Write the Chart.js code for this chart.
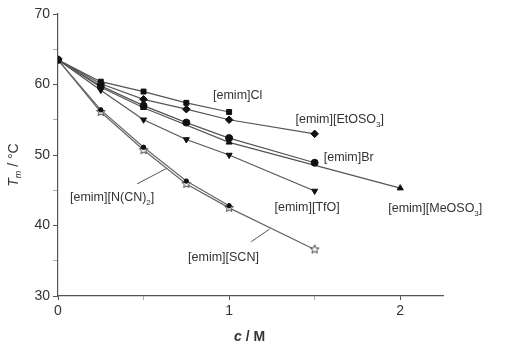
<!DOCTYPE html>
<html lang="en">
<head>
<meta charset="UTF-8">
<script src="https://cdn.jsdelivr.net/npm/chart.js"></script>
<style>
  body { margin: 0; background: #fff; }
</style>
<title>Tm vs c</title>
</head>
<body>
<canvas id="tmChart" width="510" height="348"></canvas>
<script>
// concentration c / M (shared x values, null = no point for that salt)
const conc = [0, 0.25, 0.5, 0.75, 1, 1.5, 2];

// melting temperature Tm / °C
const tCl     = [63.5, 60.4, 59.0, 57.4, 56.1, null, null];
const tEtOSO3 = [63.5, 60.1, 57.9, 56.5, 55.0, 53.0, null];
const tBr     = [63.5, 59.8, 57.0, 54.6, 52.4, 48.9, null];
const tMeOSO3 = [63.5, 59.6, 56.7, null, 51.8, null, 45.3];
const tTfO    = [63.5, 59.2, 55.0, 52.2, 50.0, 44.9, null];
const tNCN2   = [63.5, 56.4, 51.1, 46.3, 42.8, null, null];
const tSCN    = [63.5, 56.1, 50.7, 45.9, 42.5, 36.6, null];

const yTicks = [30, 40, 50, 60, 70];
const xTicks = [0, 1, 2];

Chart.defaults.font.family = '"Liberation Sans", Arial, sans-serif';

function pts(t) {
  return conc.map((c, i) => ({ x: c, y: t[i] })).filter(p => p.y !== null);
}

// open five point star marker
function openStar(r) {
  const cv = document.createElement('canvas');
  const s = Math.ceil(r * 2 + 3);
  cv.width = s; cv.height = s;
  const g = cv.getContext('2d');
  g.beginPath();
  for (let i = 0; i < 10; i++) {
    const a = -Math.PI / 2 + i * Math.PI / 5;
    const rr = i % 2 ? r * 0.45 : r;
    g.lineTo(s / 2 + rr * Math.cos(a), s / 2 + rr * Math.sin(a));
  }
  g.closePath();
  g.fillStyle = '#fff';
  g.fill();
  g.strokeStyle = '#444';
  g.lineWidth = 1;
  g.stroke();
  return cv;
}

function series(label, t, style, extra) {
  return Object.assign({
    label: label,
    data: pts(t),
    borderColor: '#555',
    borderWidth: 1.2,
    pointStyle: style,
    pointRadius: 3.5,
    pointBackgroundColor: '#111',
    pointBorderColor: '#111',
    pointBorderWidth: 1,
    tension: 0,
    fill: false
  }, extra || {});
}

// text labels next to the curves (data coords of left edge / middle)
const notes = [
  { parts: [['[emim]Cl']], c: 0.906, t: 58.5 },
  { parts: [['[emim][EtOSO'], ['3', 1], [']']], c: 1.388, t: 55.0 },
  { parts: [['[emim]Br']], c: 1.553, t: 49.6 },
  { parts: [['[emim][TfO]']], c: 1.265, t: 42.5 },
  { parts: [['[emim][MeOSO'], ['3', 1], [']']], c: 1.93, t: 42.4 },
  { parts: [['[emim][N(CN)'], ['2', 1], [']']], c: 0.07, t: 43.9 },
  { parts: [['[emim][SCN]']], c: 0.76, t: 35.5 }
];
const leaders = [
  [0.462, 45.9, 0.635, 48.1],
  [1.129, 37.7, 1.237, 39.5]
];

const notesPlugin = {
  id: 'notes',
  afterDatasetsDraw(chart) {
    const g = chart.ctx, xs = chart.scales.x, ys = chart.scales.y;
    g.save();
    g.strokeStyle = '#555';
    g.lineWidth = 1;
    leaders.forEach(l => {
      g.beginPath();
      g.moveTo(xs.getPixelForValue(l[0]), ys.getPixelForValue(l[1]));
      g.lineTo(xs.getPixelForValue(l[2]), ys.getPixelForValue(l[3]));
      g.stroke();
    });
    g.fillStyle = '#333';
    g.textBaseline = 'middle';
    g.textAlign = 'left';
    notes.forEach(n => {
      let x = xs.getPixelForValue(n.c);
      const y = ys.getPixelForValue(n.t);
      n.parts.forEach(p => {
        g.font = p[1] ? '8px "Liberation Sans", Arial, sans-serif' : '12.5px "Liberation Sans", Arial, sans-serif';
        g.fillText(p[0], x, p[1] ? y + 5 : y);
        x += g.measureText(p[0]).width;
      });
    });

    // axis titles
    g.fillStyle = '#333';
    g.textAlign = 'left';
    const bx = xs.getPixelForValue(1.12);
    g.font = 'italic bold 14px "Liberation Sans", Arial, sans-serif';
    const w1 = g.measureText('c').width;
    g.font = 'bold 14px "Liberation Sans", Arial, sans-serif';
    const w2 = g.measureText(' / M').width;
    let x0 = bx - (w1 + w2) / 2;
    g.font = 'italic bold 14px "Liberation Sans", Arial, sans-serif';
    g.fillText('c', x0, 337);
    g.font = 'bold 14px "Liberation Sans", Arial, sans-serif';
    g.fillText(' / M', x0 + w1, 337);

    g.translate(14, 165);
    g.rotate(-Math.PI / 2);
    const segs = [['T', 'italic 14px'], ['m', 'italic 9px', 4], [' / \u00b0C', '14px']];
    let tw = 0;
    segs.forEach(s => { g.font = s[1] + ' "Liberation Sans", Arial, sans-serif'; tw += g.measureText(s[0]).width; });
    let tx = -tw / 2;
    segs.forEach(s => {
      g.font = s[1] + ' "Liberation Sans", Arial, sans-serif';
      g.fillText(s[0], tx, s[2] || 0);
      tx += g.measureText(s[0]).width;
    });
    g.restore();
  }
};

const ctx = document.getElementById('tmChart').getContext('2d');
const chart = new Chart(ctx, {
  type: 'line',
  data: {
    datasets: [
      series('[emim]Cl', tCl, 'rect'),
      series('[emim][EtOSO3]', tEtOSO3, 'rectRot', { pointRadius: 3.8 }),
      series('[emim]Br', tBr, 'circle'),
      series('[emim][MeOSO3]', tMeOSO3, 'triangle'),
      series('[emim][TfO]', tTfO, 'triangle', { pointRotation: 180 }),
      series('[emim][N(CN)2]', tNCN2, 'circle', { pointRadius: 2.2, borderColor: '#666' }),
      series('[emim][SCN]', tSCN, openStar(4.5), { borderColor: '#666' })
    ]
  },
  options: {
    responsive: false,
    animation: false,
    layout: { padding: { top: 14, right: 67, left: 0, bottom: 0 } },
    plugins: { legend: { display: false }, tooltip: { enabled: false } },
    scales: {
      x: {
        type: 'linear',
        min: 0,
        max: 2.25,
        afterFit: s => { s.height = 52; },
        afterBuildTicks: s => { s.ticks = [0, 0.5, 1, 1.5, 2].map(v => ({ value: v })); },
        ticks: {
          stepSize: 0.5,
          padding: 3,
          color: '#333',
          font: { size: 14 },
          maxRotation: 0,
          callback: v => xTicks.includes(v) ? String(v) : ''
        },
        grid: {
          drawOnChartArea: false,
          tickLength: 4,
          tickColor: c => (c.tick && xTicks.includes(c.tick.value)) ? '#555' : '#aaa'
        },
        border: { color: '#555', width: 1.2 }
      },
      y: {
        min: 30,
        max: 70,
        afterFit: s => { s.width = 58; },
        ticks: {
          stepSize: 5,
          padding: 3,
          color: '#333',
          font: { size: 14 },
          callback: v => yTicks.includes(v) ? String(v) : ''
        },
        grid: {
          drawOnChartArea: false,
          tickLength: 5,
          tickColor: c => (c.tick && yTicks.includes(c.tick.value)) ? '#555' : '#aaa'
        },
        border: { color: '#555', width: 1.2 }
      }
    }
  },
  plugins: [notesPlugin]
});
</script>
</body>
</html>
